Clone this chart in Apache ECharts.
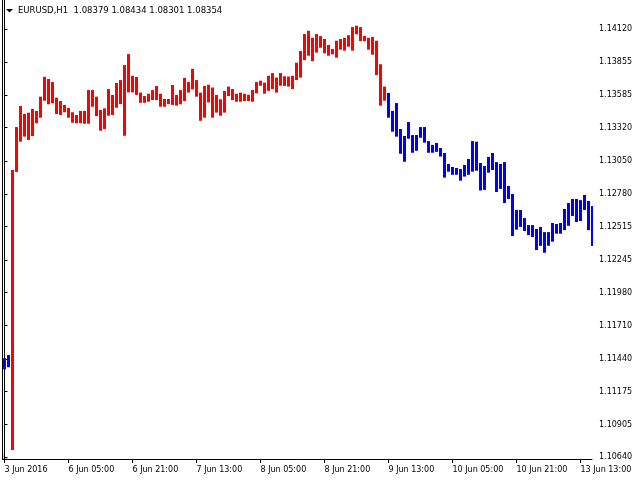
<!DOCTYPE html>
<html>
<head>
<meta charset="utf-8">
<script src="https://cdn.jsdelivr.net/npm/echarts@6/dist/echarts.min.js"></script>
<style>
  html, body { margin: 0; padding: 0; background: #fff; }
  #chart { width: 640px; height: 480px; }
</style>
</head>
<body>
<div id="chart"></div>
<script>
// EURUSD H1, one bar per hour starting 3 Jun 2016 13:00
const highs = [
  1.11445, 1.11471, 1.12976, 1.13325, 1.13496, 1.13431, 1.13442, 1.13472, 1.13456, 1.13572,
  1.13734, 1.13716, 1.13691, 1.13564, 1.13537, 1.13505, 1.13480, 1.13445, 1.13423, 1.13456,
  1.13456, 1.13626, 1.13626, 1.13572, 1.13464, 1.13477, 1.13634, 1.13586, 1.13683, 1.13707,
  1.13829, 1.13918, 1.13742, 1.13732, 1.13605, 1.13577, 1.13596, 1.13626, 1.13659, 1.13596,
  1.13553, 1.13553, 1.13667, 1.13586, 1.13626, 1.13724, 1.13691, 1.13798, 1.13707, 1.13605,
  1.13659, 1.13669, 1.13647, 1.13586, 1.13551, 1.13619, 1.13654, 1.13634, 1.13596, 1.13605,
  1.13596, 1.13588, 1.13626, 1.13691, 1.13702, 1.13686, 1.13742, 1.13764, 1.13727, 1.13764,
  1.13738, 1.13736, 1.13742, 1.13848, 1.13943, 1.14081, 1.14108, 1.14051, 1.14081, 1.14065,
  1.14041, 1.13992, 1.13960, 1.14027, 1.14041, 1.14051, 1.14072, 1.14138, 1.14149, 1.14138,
  1.14065, 1.14051, 1.14058, 1.14027, 1.13836, 1.13654, 1.13602, 1.13456, 1.13520, 1.13309,
  1.13252, 1.13366, 1.13260, 1.13260, 1.13325, 1.13325, 1.13211, 1.13180, 1.13196, 1.13155,
  1.13114, 1.13025, 1.13000, 1.12992, 1.12983, 1.13017, 1.13065, 1.13211, 1.13206, 1.13033,
  1.13008, 1.13082, 1.13114, 1.13040, 1.13025, 1.13040, 1.12846, 1.12781, 1.12651, 1.12651,
  1.12585, 1.12528, 1.12528, 1.12496, 1.12513, 1.12471, 1.12471, 1.12545, 1.12537, 1.12545,
  1.12659, 1.12707, 1.12740, 1.12740, 1.12731, 1.12773, 1.12724, 1.12683
];
const lows = [
  1.11355, 1.11372, 1.10699, 1.12960, 1.13206, 1.13247, 1.13220, 1.13252, 1.13356, 1.13401,
  1.13539, 1.13510, 1.13518, 1.13431, 1.13423, 1.13445, 1.13401, 1.13360, 1.13356, 1.13356,
  1.13352, 1.13352, 1.13490, 1.13414, 1.13295, 1.13309, 1.13417, 1.13423, 1.13482, 1.13512,
  1.13254, 1.13607, 1.13607, 1.13586, 1.13522, 1.13522, 1.13531, 1.13545, 1.13545, 1.13490,
  1.13490, 1.13512, 1.13505, 1.13499, 1.13510, 1.13537, 1.13605, 1.13631, 1.13572, 1.13376,
  1.13401, 1.13525, 1.13401, 1.13442, 1.13417, 1.13442, 1.13577, 1.13545, 1.13531, 1.13531,
  1.13537, 1.13537, 1.13531, 1.13599, 1.13661, 1.13596, 1.13619, 1.13634, 1.13605, 1.13661,
  1.13659, 1.13654, 1.13634, 1.13707, 1.13727, 1.13869, 1.13905, 1.13862, 1.13930, 1.13970,
  1.13925, 1.13905, 1.13916, 1.13889, 1.13954, 1.13946, 1.13978, 1.13946, 1.14079, 1.14024,
  1.14023, 1.13954, 1.13913, 1.13748, 1.13499, 1.13539, 1.13401, 1.13287, 1.13247, 1.13108,
  1.13043, 1.13230, 1.13116, 1.13132, 1.13238, 1.13198, 1.13116, 1.13116, 1.13123, 1.13085,
  1.12914, 1.12962, 1.12937, 1.12937, 1.12889, 1.12922, 1.12937, 1.12962, 1.12970, 1.12809,
  1.12814, 1.12954, 1.12976, 1.12797, 1.12822, 1.12707, 1.12740, 1.12439, 1.12491, 1.12513,
  1.12480, 1.12447, 1.12431, 1.12325, 1.12359, 1.12303, 1.12360, 1.12393, 1.12458, 1.12458,
  1.12487, 1.12522, 1.12602, 1.12553, 1.12561, 1.12651, 1.12487, 1.12358
];
// 1 = red, 0 = blue
const signal = [
  0, 0, 1, 1, 1, 1, 1, 1, 1, 1,  1, 1, 1, 1, 1, 1, 1, 1, 1, 1,
  1, 1, 1, 1, 1, 1, 1, 1, 1, 1,  1, 1, 1, 1, 1, 1, 1, 1, 1, 1,
  1, 1, 1, 1, 1, 1, 1, 1, 1, 1,  1, 1, 1, 1, 1, 1, 1, 1, 1, 1,
  1, 1, 1, 1, 1, 1, 1, 1, 1, 1,  1, 1, 1, 1, 1, 1, 1, 1, 1, 1,
  1, 1, 1, 1, 1, 1, 1, 1, 1, 1,  1, 1, 1, 1, 1, 1, 0, 0, 0, 0,
  0, 0, 0, 0, 0, 0, 0, 0, 0, 0,  0, 0, 0, 0, 0, 0, 0, 0, 0, 0,
  0, 0, 0, 0, 0, 0, 0, 0, 0, 0,  0, 0, 0, 0, 0, 0, 0, 0, 0, 0,
  0, 0, 0, 0, 0, 0, 0, 0
];
const timeTickIdx = [0, 16, 32, 48, 64, 80, 96, 112, 128, 144];
const timeLabels = ['3 Jun 2016', '6 Jun 05:00', '6 Jun 21:00', '7 Jun 13:00', '8 Jun 05:00',
  '8 Jun 21:00', '9 Jun 13:00', '10 Jun 05:00', '10 Jun 21:00', '13 Jun 13:00'];
const priceTicks = [1.10640, 1.10905, 1.11175, 1.11440, 1.11710, 1.11980, 1.12245,
  1.12515, 1.12780, 1.13050, 1.13320, 1.13585, 1.13855, 1.14120];

const font = 'DejaVu Sans, Verdana, sans-serif';
const colors = ['#0000ff', '#ff0000'];

const barData = highs.map((h, i) => [i, lows[i], h, signal[i]]);

const chart = echarts.init(document.getElementById('chart'), null, { renderer: 'canvas' });

chart.setOption({
  animation: false,
  backgroundColor: '#ffffff',
  title: {
    text: 'EURUSD,H1  1.08379 1.08434 1.08301 1.08354',
    left: 18,
    top: 6,
    padding: 0,
    textStyle: { fontFamily: font, fontSize: 8.5, fontWeight: 'normal', color: '#000' }
  },
  graphic: [
    { type: 'polygon', shape: { points: [[6, 9], [13, 9], [9.5, 12.5]] }, style: { fill: '#000' } },
    { type: 'polygon', shape: { points: [[3, 454], [3, 459], [8, 459]] }, style: { fill: '#c0c0c0' } }
  ],
  grid: { left: 2.5, right: 48, top: 0, bottom: 21 },
  xAxis: {
    type: 'value',
    min: -0.5,
    max: 146.875,
    splitLine: { show: false },
    axisLine: { show: true, onZero: false, lineStyle: { color: '#000', width: 1 } },
    axisTick: { show: true, length: 4, lineStyle: { color: '#000' }, customValues: timeTickIdx },
    axisLabel: {
      customValues: timeTickIdx,
      align: 'left',
      margin: 7,
      color: '#000',
      fontFamily: font,
      fontSize: 8,
      formatter: v => timeLabels[timeTickIdx.indexOf(Math.round(v))] || ''
    }
  },
  yAxis: [
    {
      type: 'value',
      position: 'right',
      min: 1.10626,
      max: 1.14358,
      splitLine: { show: false },
      axisLine: { show: true, lineStyle: { color: '#000', width: 1 } },
      axisTick: { show: true, length: 3, lineStyle: { color: '#000' }, customValues: priceTicks },
      axisLabel: {
        customValues: priceTicks,
        margin: 7,
        color: '#000',
        fontFamily: font,
        fontSize: 8,
        formatter: v => v.toFixed(5)
      }
    },
    {
      type: 'value',
      position: 'left',
      min: 1.10626,
      max: 1.14358,
      splitLine: { show: false },
      axisLine: { show: true, lineStyle: { color: '#000', width: 1 } },
      axisTick: { show: false },
      axisLabel: { show: false }
    }
  ],
  series: [{
    type: 'custom',
    clip: true,
    data: barData,
    encode: { x: 0, y: [1, 2] },
    renderItem: function (params, api) {
      const x = api.value(0);
      const lo = api.coord([x, api.value(1)]);
      const hi = api.coord([x, api.value(2)]);
      return {
        type: 'rect',
        shape: { x: lo[0] - 1.5, y: hi[1], width: 3, height: lo[1] - hi[1] },
        style: { fill: colors[api.value(3)] }
      };
    }
  }]
});

window.addEventListener('resize', function () {
  chart.resize();
});
</script>
</body>
</html>
